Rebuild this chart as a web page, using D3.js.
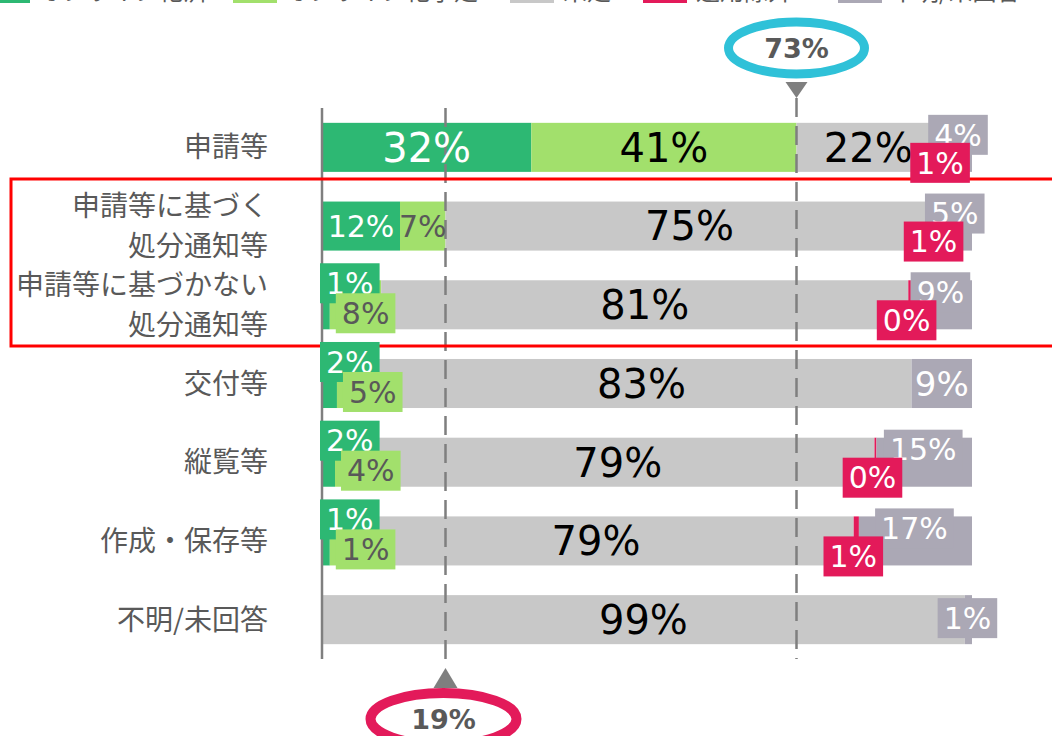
<!DOCTYPE html>
<html>
<head>
<meta charset="utf-8">
<script src="https://cdn.jsdelivr.net/npm/d3@7"></script>
<style>
  body { margin: 0; background: #fff; overflow: hidden; }
</style>
</head>
<body>
<div id="chart"></div>
<script>
// Data
const categories = ["申請等", "申請等に基づく\n処分通知等", "申請等に基づかない\n処分通知等", "交付等", "縦覧等", "作成・保存等", "不明/未回答"];
const seriesNames = ["オンライン化済", "オンライン化予定", "未定", "適用除外", "不明/未回答"];
const doneVals      = [32.2, 12.0, 1.2, 2.3, 2.0, 1.2, 0];
const plannedVals   = [40.8, 7.0, 7.9, 5.3, 4.0, 1.3, 0];
const undecidedVals = [22.1, 75.1, 81.1, 83.1, 79.0, 79.3, 98.9];
const exemptVals    = [0.9, 0.9, 0.4, 0, 0.3, 0.8, 0];
const unknownVals   = [4.0, 5.0, 9.4, 9.3, 14.7, 17.4, 1.1];
const xTicks = [0, 19, 73];
const calloutVals = [73, 19]; // 73% above (done + planned, 申請等), 19% below

const COLORS = ["#2db873", "#a2e06c", "#c8c8c8", "#e31a5a", "#aba8b5"];
const NUM_FONT = "'DejaVu Sans', Verdana, 'Noto Sans CJK JP', sans-serif";
const JP_FONT = "'Noto Sans CJK JP', 'Noto Sans', sans-serif";

const width = 1052, height = 736;
const allVals = [doneVals, plannedVals, undecidedVals, exemptVals, unknownVals];
const table = categories.map((c, j) => {
  const row = {cat: c};
  seriesNames.forEach((s, i) => row[s] = allVals[i][j]);
  return row;
});
const stack = d3.stack().keys(seriesNames)(table);

const x = d3.scaleLinear().domain([0, 100]).range([322, 972]);
const y = d3.scaleBand().domain(categories).range([108, 659])
  .paddingInner(0.377).paddingOuter(0.1885);

const svg = d3.select("#chart").append("svg")
  .attr("width", width).attr("height", height)
  .attr("viewBox", [0, 0, width, height]);

// Legend (cut off at top edge of the picture)
const legendX = [-14, 233, 510, 643, 838];
const legend = svg.append("g");
seriesNames.forEach((s, i) => {
  legend.append("rect").attr("x", legendX[i]).attr("y", -22).attr("width", 44).attr("height", 25)
    .attr("fill", COLORS[i]);
  legend.append("text").attr("x", legendX[i] + 53).attr("y", 0)
    .style("font-family", JP_FONT).style("font-size", "24px").attr("fill", "#595959")
    .text(s);
});

// Category labels
categories.forEach(c => {
  const lines = c.split("\n");
  const cy = y(c) + y.bandwidth() / 2;
  lines.forEach((ln, k) => {
    svg.append("text")
      .attr("x", 268)
      .attr("y", cy + (k - (lines.length - 1) / 2) * 40)
      .attr("dy", "0.36em")
      .attr("text-anchor", "end")
      .style("font-family", JP_FONT).style("font-size", "28px")
      .attr("fill", "#595959")
      .text(ln);
  });
});

// Bars
svg.append("g").selectAll("g").data(stack).join("g")
  .attr("fill", (d, i) => COLORS[i])
  .selectAll("rect").data(d => d).join("rect")
  .attr("x", d => x(d[0]))
  .attr("y", d => y(d.data.cat))
  .attr("width", d => x(d[1]) - x(d[0]))
  .attr("height", y.bandwidth());

// Reference lines
const [r0, r1] = y.range();
svg.append("line").attr("x1", x(xTicks[0])).attr("x2", x(xTicks[0]))
  .attr("y1", r0).attr("y2", r1)
  .attr("stroke", "#7f7f7f").attr("stroke-width", 2.5);
svg.append("line").attr("x1", x(xTicks[1])).attr("x2", x(xTicks[1]))
  .attr("y1", r0).attr("y2", r1 + 9)
  .attr("stroke", "#7f7f7f").attr("stroke-width", 2.5).attr("stroke-dasharray", "19,9");
svg.append("line").attr("x1", x(xTicks[2])).attr("x2", x(xTicks[2]))
  .attr("y1", r0 - 10).attr("y2", r1)
  .attr("stroke", "#7f7f7f").attr("stroke-width", 2.5).attr("stroke-dasharray", "19,9");

// Highlight box
svg.append("rect").attr("x", 11).attr("y", 179).attr("width", 1060).attr("height", 167)
  .attr("fill", "none").attr("stroke", "#ff0000").attr("stroke-width", 3);

// Labels
const labelG = svg.append("g");
const boxLayers = [svg.append("g"), svg.append("g"), svg.append("g"), svg.append("g")];

function insideLabel(cx, cy, txt, size, color) {
  labelG.append("text").attr("x", cx).attr("y", cy).attr("dy", "0.36em")
    .attr("text-anchor", "middle")
    .style("font-family", NUM_FONT).style("font-size", size + "px")
    .attr("fill", color).text(txt);
}
function boxLabel(layer, anchorX, alignLeft, top, txt, fill, color) {
  const g = layer.append("g");
  const t = g.append("text").attr("y", top + 20).attr("dy", "0.36em")
    .attr("text-anchor", "middle")
    .style("font-family", NUM_FONT).style("font-size", "30px")
    .attr("fill", color).text(txt);
  const w = t.node().getComputedTextLength() + 12;
  const left = alignLeft ? anchorX : anchorX - w / 2;
  g.insert("rect", "text").attr("x", left).attr("y", top).attr("width", w).attr("height", 40)
    .attr("fill", fill);
  t.attr("x", left + w / 2);
}

stack.forEach((ser, i) => {
  ser.forEach((d, j) => {
    const v = d[1] - d[0];
    if (v <= 0) return;
    const txt = Math.round(v) + "%";
    const top = y(d.data.cat);
    const cy = top + y.bandwidth() / 2;
    const mid = x((d[0] + d[1]) / 2);
    if (i === 2) {
      insideLabel(mid, cy, txt, 40, "#000");
    } else if (i === 0 || i === 1) {
      if (doneVals[j] >= 10) {
        const size = v >= 20 ? 40 : 30;
        const color = i === 0 ? "#fff" : (v >= 20 ? "#000" : "#595959");
        insideLabel(mid, cy, txt, size, color);
      } else if (i === 0) {
        boxLabel(boxLayers[2], x(d[0]) - 2, true, top - 17, txt, COLORS[0], "#fff");
      } else {
        boxLabel(boxLayers[3], x(d[0]) + 6, true, top + 13, txt, COLORS[1], "#595959");
      }
    } else if (i === 3) {
      boxLabel(boxLayers[1], mid - 3, false, top + 20, txt, COLORS[3], "#fff");
    } else {
      if (exemptVals[j] === 0 && v >= 5) {
        insideLabel(mid, cy, txt, 34, "#fff");
      } else {
        const t = exemptVals[j] === 0 ? top + 3 : top - 8;
        boxLabel(boxLayers[0], mid - 1, false, t, txt, COLORS[4], "#fff");
      }
    }
  });
});

// Callouts
function callout(val, above, color) {
  const cx = x(val);
  const g = svg.append("g");
  if (above) {
    g.append("path").attr("d", `M${cx - 11},82 L${cx + 11},82 L${cx},98 Z`).attr("fill", "#7f7f7f");
    g.append("ellipse").attr("cx", cx).attr("cy", 48).attr("rx", 68).attr("ry", 26)
      .attr("fill", "#fff").attr("stroke", color).attr("stroke-width", 9);
    g.append("text").attr("x", cx).attr("y", 48).attr("dy", "0.36em").attr("text-anchor", "middle")
      .style("font-family", NUM_FONT).style("font-size", "27px").style("font-weight", "bold")
      .attr("fill", "#595959").text(val + "%");
  } else {
    g.append("path").attr("d", `M${cx - 12},688 L${cx + 12},688 L${cx},668 Z`).attr("fill", "#7f7f7f");
    g.append("ellipse").attr("cx", cx - 2).attr("cy", 719).attr("rx", 73).attr("ry", 26)
      .attr("fill", "#fff").attr("stroke", color).attr("stroke-width", 10);
    g.append("text").attr("x", cx - 2).attr("y", 719).attr("dy", "0.36em").attr("text-anchor", "middle")
      .style("font-family", NUM_FONT).style("font-size", "27px").style("font-weight", "bold")
      .attr("fill", "#595959").text(val + "%");
  }
}
callout(calloutVals[0], true, "#2fc1d8");
callout(calloutVals[1], false, "#e31a5a");
</script>
</body>
</html>
